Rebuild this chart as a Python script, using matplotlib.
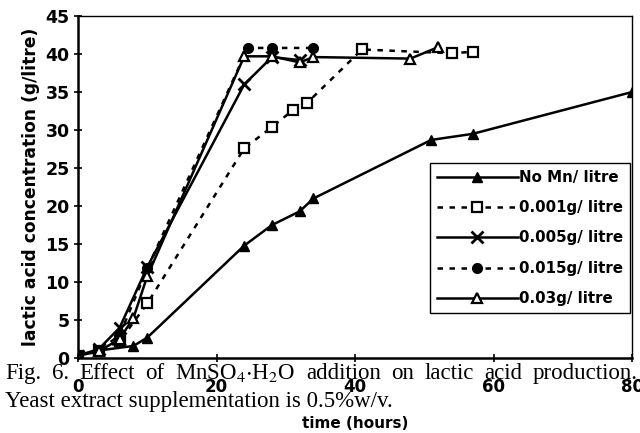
import matplotlib
matplotlib.use("Agg")
import matplotlib.pyplot as plt

plt.rcParams.update({"mathtext.fontset": "stix"})

# ---- data (time in hours, lactic acid g/litre) ----
no_mn_t = [0, 3, 8, 10, 24, 28, 32, 34, 51, 57, 80]
no_mn_y = [0.4, 1.0, 1.6, 2.7, 14.8, 17.5, 19.3, 21.0, 28.7, 29.5, 35.0]

mn001_t = [0, 3, 6, 10, 24, 28, 31, 33, 41, 54, 57]
mn001_y = [0.3, 0.9, 2.2, 7.2, 27.6, 30.4, 32.6, 33.5, 40.6, 40.1, 40.3]

mn005_t = [0, 3, 6, 10, 24, 28, 32]
mn005_y = [0.3, 1.2, 4.0, 12.0, 36.0, 39.6, 39.2]

mn015_t = [0, 3, 6, 10, 24.5, 28, 34]
mn015_y = [0.3, 1.0, 3.0, 11.8, 40.8, 40.8, 40.8]

mn03_t = [0, 3, 6, 8, 10, 24, 28, 32, 34, 48, 52]
mn03_y = [0.3, 0.9, 2.5, 5.3, 10.8, 39.7, 39.7, 38.9, 39.6, 39.4, 40.9]

labels = ["No Mn/ litre", "0.001g/ litre", "0.005g/ litre",
          "0.015g/ litre", "0.03g/ litre"]
x_ticks = [0, 20, 40, 60, 80]
y_ticks = [0, 5, 10, 15, 20, 25, 30, 35, 40, 45]

caption1 = ["Fig.", "6.", "Effect", "of", r"MnSO$_4$$\cdot$H$_2$O",
            "addition", "on", "lactic", "acid", "production."]
caption2 = "Yeast extract supplementation is 0.5%w/v."

fig = plt.figure(figsize=(6.4, 4.33), dpi=100)
ax = fig.add_axes([0.122, 0.173, 0.8655, 0.790])

sans = {"family": "DejaVu Sans", "weight": "bold"}
dash = (0, (2.2, 2.6))

ax.plot(no_mn_t, no_mn_y, color="black", lw=1.8, marker="^", ms=7,
        mfc="black", mec="black", label=labels[0])
ax.plot(mn001_t, mn001_y, color="black", lw=1.8, ls=dash, marker="s", ms=7,
        mfc="white", mec="black", mew=1.6, label=labels[1])
ax.plot(mn005_t, mn005_y, color="black", lw=1.8, marker="x", ms=8,
        mec="black", mew=2, label=labels[2])
ax.plot(mn015_t, mn015_y, color="black", lw=1.8, ls=dash, marker="o", ms=7,
        mfc="black", mec="black", label=labels[3])
ax.plot(mn03_t, mn03_y, color="black", lw=1.8, marker="^", ms=7,
        mfc="white", mec="black", mew=1.6, label=labels[4])

ax.set_xlim(0, 80)
ax.set_ylim(0, 45)
ax.set_xticks(x_ticks)
ax.set_yticks(y_ticks)
ax.set_xticklabels([str(v) for v in x_ticks], fontdict=dict(sans, size=12))
ax.set_yticklabels([str(v) for v in y_ticks], fontdict=dict(sans, size=12.5))
ax.tick_params(axis="both", direction="inout", length=6, width=1.2)
ax.tick_params(axis="x", pad=11)
ax.tick_params(axis="y", pad=3)

for side in ("left", "bottom"):
    ax.spines[side].set_linewidth(1.8)
for side in ("top", "right"):
    ax.spines[side].set_linewidth(1.0)

ax.set_xlabel("time (hours)", fontdict=dict(sans, size=11), labelpad=15)
ax.set_ylabel("lactic acid concentration (g/litre)",
              fontdict=dict(sans, size=12.3), labelpad=4)

leg = ax.legend(loc="upper left", bbox_to_anchor=(0.635, 0.57),
                borderaxespad=0, prop=dict(family="DejaVu Sans", weight="bold", size=10.8),
                handlelength=5.4, handletextpad=0.1, labelspacing=1.02,
                fancybox=False, framealpha=1, edgecolor="black",
                borderpad=0.45)
leg.get_frame().set_linewidth(1.0)

# ---- caption overlaid on the chart, first line justified ----
serif = {"family": "Liberation Serif", "size": 16.5}
left_px, right_px = 5, 638
words = [fig.text(0, 1 - 379 / 433, w, ha="left", va="baseline", **serif)
         for w in caption1]
renderer = fig.canvas.get_renderer()
widths = [t.get_window_extent(renderer).width for t in words]
gap = (right_px - left_px - sum(widths)) / (len(words) - 1)
x = left_px
for t, w in zip(words, widths):
    t.set_x(x / 640)
    x += w + gap
fig.text(left_px / 640, 1 - 407 / 433, caption2, ha="left", va="baseline", **serif)

fig.savefig("out.png", dpi=100)
